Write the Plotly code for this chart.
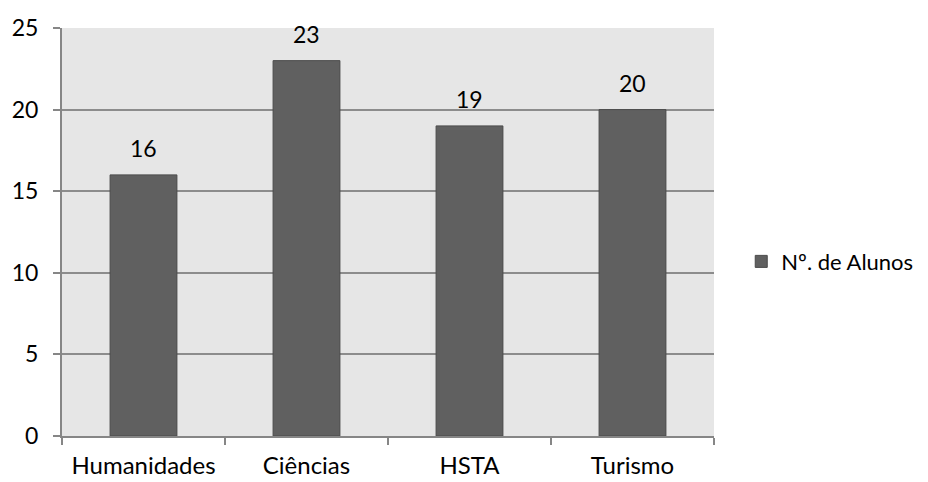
import plotly.graph_objects as go

categories = ["Humanidades", "Ciências", "HSTA", "Turismo"]
values = [16, 23, 19, 20]
series_name = "Nº. de Alunos"
y_ticks = [0, 5, 10, 15, 20, 25]

FONT = "Lato"

fig = go.Figure()
fig.add_trace(go.Bar(
    x=categories, y=values, name=series_name,
    marker=dict(color="#606060", line=dict(color="#4a4a4a", width=1)),
    width=0.41,
    showlegend=True,
))
for c, v in zip(categories, values):
    fig.add_annotation(x=c, y=v, text=str(v), showarrow=False,
                       yanchor="bottom", yshift=11,
                       font=dict(family=FONT, size=23, color="#000000"))

fig.update_layout(
    width=920, height=474,
    margin=dict(l=54, r=214, t=20, b=46),
    paper_bgcolor="white", plot_bgcolor="#e6e6e6",
    font=dict(family=FONT, size=23, color="#000000"),
    showlegend=True,
    legend=dict(xref="container", yref="container", x=0.797, y=0.465,
                xanchor="left", yanchor="middle",
                font=dict(family=FONT, size=22),
                itemwidth=30, bgcolor="rgba(0,0,0,0)"),
)
fig.update_xaxes(
    automargin=False,
    showgrid=False, showline=True, linecolor="#868686", linewidth=2,
    ticks="outside", tickson="boundaries", ticklen=7, tickcolor="#868686",
    tickwidth=2, tickfont=dict(family=FONT, size=24), ticklabelstandoff=7,
)
fig.update_yaxes(
    automargin=False,
    range=[0, 25], tickvals=y_ticks, showgrid=True, gridcolor="#8c8c8c",
    gridwidth=1.5, showline=True, linecolor="#868686", linewidth=2,
    ticks="outside", ticklen=7, tickcolor="#868686", tickwidth=1.5,
    tickfont=dict(family=FONT, size=23), zeroline=False, ticklabelstandoff=10,
)

fig.write_html("out.html")
